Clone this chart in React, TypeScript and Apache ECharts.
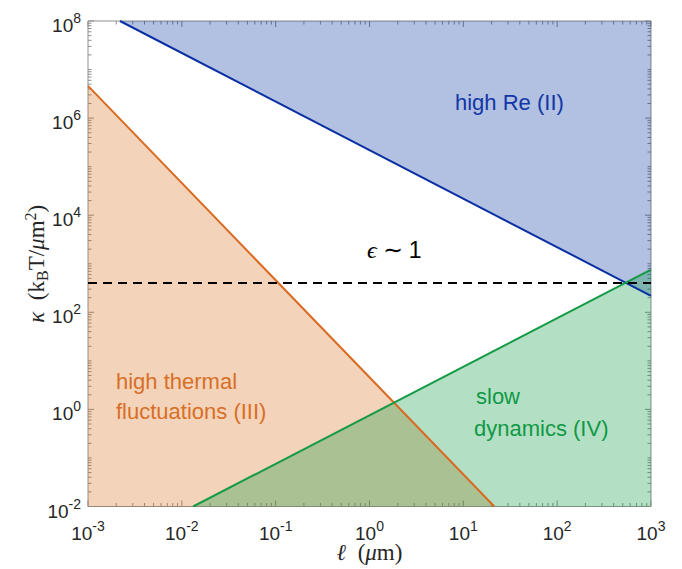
import React, { useEffect, useRef } from 'react';
import * as echarts from 'echarts';

// ---- data ----
const xTickValues = [1e-3, 1e-2, 1e-1, 1, 1e1, 1e2, 1e3];
const yTickValues = [1e-2, 1, 1e2, 1e4, 1e6, 1e8];

// boundary lines (ℓ [µm], κ [kBT/µm²])
const highReLine = [[0.00219, 1e8], [1000, 219]];
const thermalLine = [[0.001, 4.6e6], [21.4, 0.01]];
const slowLine = [[0.0132, 0.01], [1000, 760]];
const epsilonLine = [[0.001, 400], [1000, 400]];

const X_MIN = 1e-3, X_MAX = 1e3, Y_MIN = 1e-2, Y_MAX = 1e8;

const SANS = '"Liberation Sans", Arial, Helvetica, sans-serif';
const SERIF = '"Liberation Serif", "Times New Roman", serif';
const AX = '#262626';
const BORDER = '#8f8f8f';
const BASE_SIZE = 19;
const EXP_SIZE = 14;

const isTick = (list: number[], v: number) => list.some((t) => Math.abs(Math.log10(t) - Math.log10(v)) < 1e-6);

let measureCtx: CanvasRenderingContext2D | null = null;
function textWidth(text: string, size: number) {
  if (!measureCtx) measureCtx = document.createElement('canvas').getContext('2d');
  if (!measureCtx) return text.length * size * 0.556;
  measureCtx.font = `${size}px ${SANS}`;
  return measureCtx.measureText(text).width;
}

// tick marks (kind 0 = x, 1 = y; major flag)
function buildTicks() {
  const out: number[][] = [];
  for (let k = -3; k <= 3; k++) {
    const v = Math.pow(10, k);
    out.push([v, Y_MIN, 0, isTick(xTickValues, v) ? 1 : 0]);
    if (k < 3) for (let m = 2; m <= 9; m++) out.push([m * v, Y_MIN, 0, 0]);
  }
  for (let k = -2; k <= 8; k++) {
    const v = Math.pow(10, k);
    out.push([X_MIN, v, 1, isTick(yTickValues, v) ? 1 : 0]);
    if (k < 8) for (let m = 2; m <= 9; m++) out.push([X_MIN, m * v, 1, 0]);
  }
  return out;
}

const tickStyle = (text: string, size: number, align: string) => ({
  text, fontSize: size, fontFamily: SANS, font: `${size}px ${SANS}`, fill: AX, align, verticalAlign: 'middle',
  textAlign: align, textVerticalAlign: 'middle',
});

const nameI = { font: `italic 23px ${SERIF}`, fontFamily: SERIF, fontStyle: 'italic', fontSize: 23, color: AX };
const nameR = { font: `23px ${SERIF}`, fontFamily: SERIF, fontSize: 23, color: AX };
const nameS = { font: `16px ${SERIF}`, fontFamily: SERIF, fontSize: 16, color: AX };

export default function App() {
  const ref = useRef<HTMLDivElement>(null);
  useEffect(() => {
    if (!ref.current) return;
    const chart = echarts.init(ref.current, null, { renderer: 'svg' });
    const baseW = textWidth('10', BASE_SIZE);
    const option: any = {
      animation: false,
      grid: { left: 88, right: 31, top: 21, bottom: 62, show: true, borderColor: BORDER, borderWidth: 1, backgroundColor: 'transparent' },
      xAxis: {
        type: 'log', logBase: 10, min: X_MIN, max: X_MAX, interval: 1,
        axisLine: { show: false }, axisTick: { show: false }, splitLine: { show: false }, axisLabel: { show: false },
        name: '{i|ℓ}  {r|(}{i|μ}{r|m)}', nameLocation: 'middle', nameGap: 39,
        nameTextStyle: {
          fontSize: 23, fontFamily: SERIF, color: AX, lineHeight: 14,
          rich: { i: { ...nameI, lineHeight: 14 }, r: { ...nameR, lineHeight: 14 } },
        },
      },
      yAxis: {
        type: 'log', logBase: 10, min: Y_MIN, max: Y_MAX, interval: 2,
        axisLine: { show: false }, axisTick: { show: false }, splitLine: { show: false }, axisLabel: { show: false },
        name: '{i|κ}  {r|(k}{sub|B}{r|T/}{i|μ}{r|m}{sup|2}{r|)}', nameLocation: 'middle', nameGap: 38,
        nameTextStyle: {
          fontSize: 23, fontFamily: SERIF, color: AX,
          rich: {
            i: { ...nameI, lineHeight: 28 },
            r: { ...nameR, lineHeight: 28 },
            sub: { ...nameS, lineHeight: 16, padding: [12, 0, 0, 0] },
            sup: { ...nameS, lineHeight: 16, padding: [0, 0, 12, 0] },
          },
        },
      },
      series: [
        {
          type: 'custom', silent: true, data: buildTicks(), encode: { x: 0, y: 1 },
          renderItem: (params: any, api: any) => {
            const cs = params.coordSys;
            const kind = api.value(2);
            const major = api.value(3) === 1;
            const len = major ? 6 : 3.5;
            const st = { stroke: BORDER, lineWidth: 1 };
            if (kind === 0) {
              const v = api.value(0);
              const px = api.coord([v, Y_MIN])[0];
              const yb = cs.y + cs.height, yt = cs.y;
              const ch: any[] = [
                { type: 'line', shape: { x1: px, y1: yb, x2: px, y2: yb - len }, style: st },
                { type: 'line', shape: { x1: px, y1: yt, x2: px, y2: yt + len }, style: st },
              ];
              if (major) {
                const e = String(Math.round(Math.log10(v)));
                const expW = textWidth(e, EXP_SIZE);
                const x0 = px - (baseW + expW) / 2;
                ch.push({ type: 'text', x: x0, y: yb + 27, style: tickStyle('10', BASE_SIZE, 'left') });
                ch.push({ type: 'text', x: x0 + baseW, y: yb + 19, style: tickStyle(e, EXP_SIZE, 'left') });
              }
              return { type: 'group', children: ch };
            }
            const v = api.value(1);
            const py = api.coord([X_MIN, v])[1];
            const xl = cs.x, xr = cs.x + cs.width;
            const ch: any[] = [
              { type: 'line', shape: { x1: xl, y1: py, x2: xl + len, y2: py }, style: st },
              { type: 'line', shape: { x1: xr, y1: py, x2: xr - len, y2: py }, style: st },
            ];
            if (major) {
              const e = String(Math.round(Math.log10(v)));
              const expW = textWidth(e, EXP_SIZE);
              const xr0 = xl - 7;
              ch.push({ type: 'text', x: xr0, y: py - 3, style: tickStyle(e, EXP_SIZE, 'right') });
              ch.push({ type: 'text', x: xr0 - expW, y: py + 4.5, style: tickStyle('10', BASE_SIZE, 'right') });
            }
            return { type: 'group', children: ch };
          },
        },
        {
          type: 'line', data: highReLine, showSymbol: false, symbol: 'none',
          lineStyle: { color: '#0a2fa3', width: 2 },
          areaStyle: { color: 'rgb(0,45,160)', opacity: 0.3, origin: Y_MAX },
        },
        {
          type: 'line', data: thermalLine, showSymbol: false, symbol: 'none',
          lineStyle: { color: '#d96a22', width: 2 },
          areaStyle: { color: 'rgb(215,108,28)', opacity: 0.3, origin: Y_MIN },
        },
        {
          type: 'line', data: slowLine, showSymbol: false, symbol: 'none',
          lineStyle: { color: '#159a45', width: 2 },
          areaStyle: { color: 'rgb(2,152,58)', opacity: 0.3, origin: Y_MIN },
        },
        {
          type: 'line', data: epsilonLine, showSymbol: false, symbol: 'none',
          lineStyle: { color: '#000', width: 2, type: [9, 6] },
        },
      ],
      graphic: [
        { type: 'text', left: 455, top: 91, silent: true, style: { text: 'high Re (II)', font: `22px ${SANS}`, fill: '#1a3aa8' } },
        { type: 'text', left: 116, top: 370, silent: true, style: { text: 'high thermal', font: `22px ${SANS}`, fill: '#d8702c' } },
        { type: 'text', left: 116, top: 400, silent: true, style: { text: 'fluctuations (III)', font: `22px ${SANS}`, fill: '#d8702c' } },
        { type: 'text', left: 476, top: 385, silent: true, style: { text: 'slow', font: `22px ${SANS}`, fill: '#16994a' } },
        { type: 'text', left: 474, top: 417, silent: true, style: { text: 'dynamics (IV)', font: `22px ${SANS}`, fill: '#16994a' } },
        {
          type: 'text', left: 367, top: 238, silent: true,
          style: {
            text: '{e|ϵ} {t|∼} {n|1}',
            font: `24px ${SERIF}`,
            rich: {
              e: { font: `italic 24px ${SERIF}`, fontFamily: SERIF, fontStyle: 'italic', fontSize: 24, fill: '#000' },
              t: { font: `24px ${SERIF}`, fontFamily: SERIF, fontSize: 24, fill: '#000' },
              n: { font: `23px ${SANS}`, fontFamily: SANS, fontSize: 23, fill: '#000' },
            },
          },
        },
      ],
    };
    chart.setOption(option);
    return () => chart.dispose();
  }, []);
  return <div ref={ref} style={{ position: 'fixed', left: 0, top: 0, width: 682, height: 569, background: '#fff' }} />;
}
